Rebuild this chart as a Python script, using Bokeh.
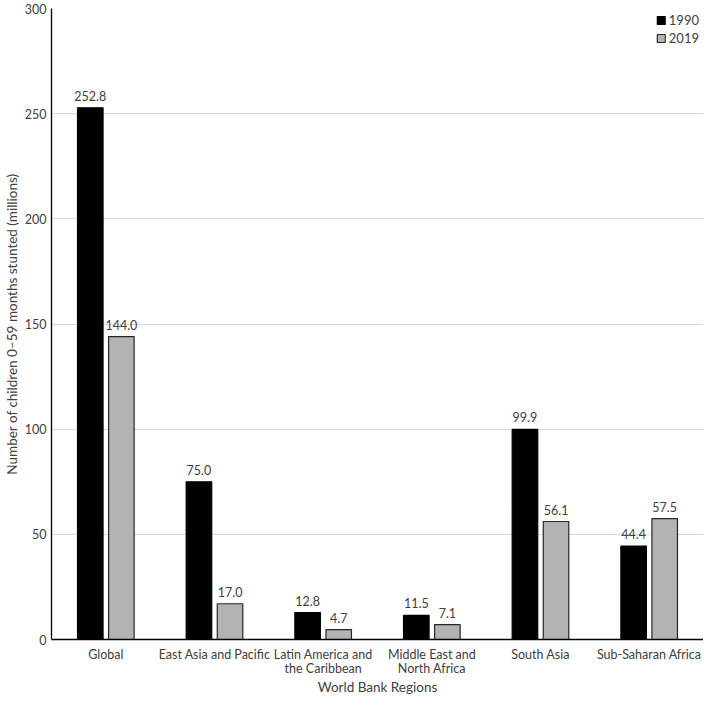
from bokeh.plotting import figure
from bokeh.models import ColumnDataSource, FactorRange, LabelSet, Legend, LegendItem, Range1d
from bokeh.core.properties import value
from bokeh.transform import dodge
from bokeh.embed import file_html
from bokeh.resources import INLINE

regions = ["Global", "East Asia and Pacific", "Latin America and\nthe Caribbean",
           "Middle East and\nNorth Africa", "South Asia", "Sub-Saharan Africa"]
v1990 = [252.8, 75.0, 12.8, 11.5, 99.9, 44.4]
v2019 = [144.0, 17.0, 4.7, 7.1, 56.1, 57.5]
y_ticks = [0, 50, 100, 150, 200, 250, 300]

FONT = "Lato"
TXT = "#404040"

src = ColumnDataSource(dict(
    region=regions, v1990=v1990, v2019=v2019,
    l1990=[f"{v:.1f}" for v in v1990], l2019=[f"{v:.1f}" for v in v2019],
))

p = figure(width=703, height=697, x_range=FactorRange(*regions, range_padding=0),
           y_range=Range1d(0, 300), output_backend="svg", toolbar_location=None,
           min_border_left=20, min_border_right=0, min_border_top=8, min_border_bottom=20)

r1 = p.vbar(x=dodge("region", -0.143, range=p.x_range), top="v1990", width=0.235, source=src,
            fill_color="black", line_color="black", line_width=1.2)
r2 = p.vbar(x=dodge("region", 0.143, range=p.x_range), top="v2019", width=0.235, source=src,
            fill_color="#b3b3b3", line_color="#262626", line_width=1.2)

for col, lab, off in [("v1990", "l1990", -0.143), ("v2019", "l2019", 0.143)]:
    ls = LabelSet(x=dodge("region", off, range=p.x_range), y=col, text=lab, source=src,
                  y_offset=7, text_align="center", text_baseline="bottom",
                  text_font=value(FONT), text_font_size="12.5px", text_color=TXT)
    p.add_layout(ls)

p.outline_line_color = None
p.xgrid.grid_line_color = None
p.ygrid.grid_line_color = "#d9d9d9"
p.ygrid.ticker = y_ticks
p.yaxis.ticker = y_ticks

for ax in (p.xaxis, p.yaxis):
    ax.axis_line_color = "black"
    ax.axis_line_width = 1.3
    ax.major_tick_line_color = None
    ax.minor_tick_line_color = None
    ax.major_tick_out = 0
    ax.major_tick_in = 0
    ax.minor_tick_out = 0
    ax.major_label_text_font = FONT
    ax.major_label_text_font_size = "12.5px"
    ax.major_label_text_color = TXT
    ax.axis_label_text_font = FONT
    ax.axis_label_text_font_size = "13.5px"
    ax.axis_label_text_font_style = "normal"
    ax.axis_label_text_color = TXT

p.xaxis.axis_label = "World Bank Regions"
p.yaxis.axis_label = "Number of children 0–59 months stunted (millions)"
p.xaxis.major_label_text_line_height = 0.95
p.xaxis.major_label_standoff = 7
p.xaxis.axis_label_standoff = 0
p.yaxis.major_label_standoff = 5
p.yaxis.axis_label_standoff = 2

legend = Legend(items=[LegendItem(label="1990", renderers=[r1]),
                       LegendItem(label="2019", renderers=[r2])],
                location="top_right", border_line_color=None, background_fill_alpha=0,
                label_text_font=FONT, label_text_font_size="13px", label_text_color=TXT,
                glyph_width=10, glyph_height=10, spacing=2, padding=4, margin=4,
                label_height=14, label_standoff=3)
p.add_layout(legend)

open("out.html", "w").write(file_html(p, INLINE))
